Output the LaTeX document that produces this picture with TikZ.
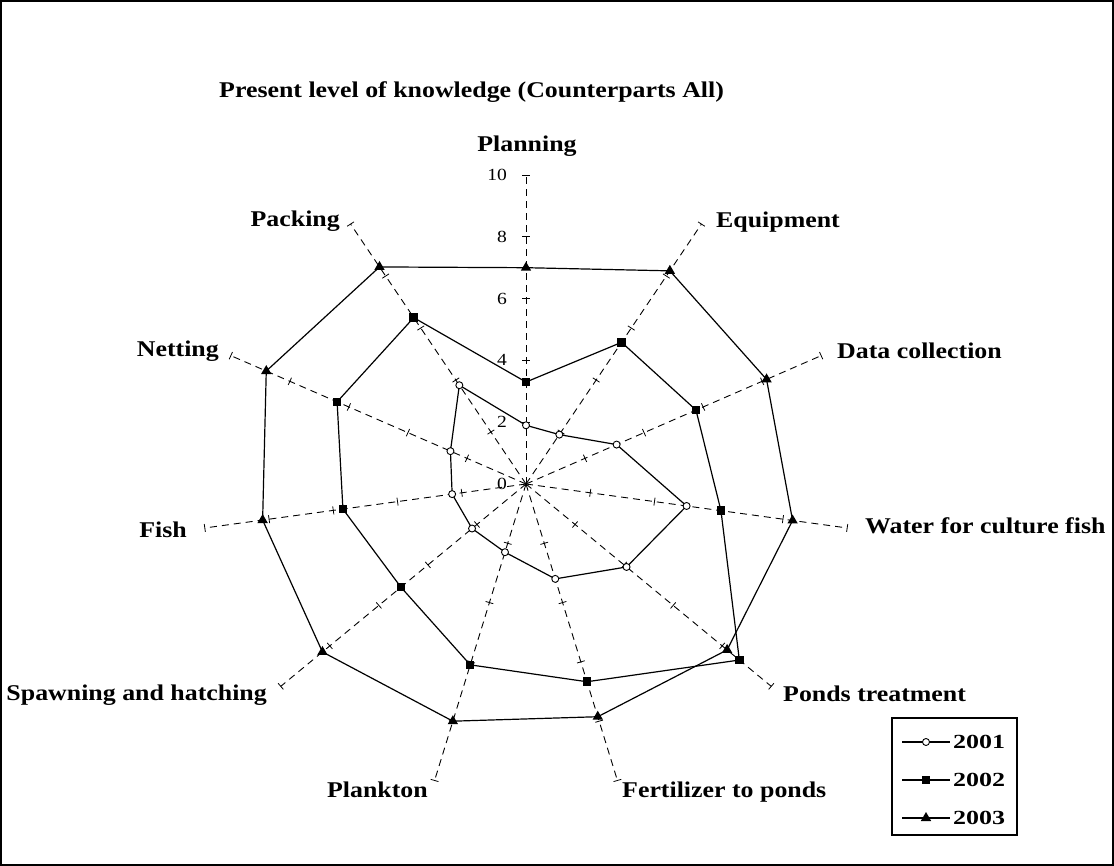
\documentclass[tikz,border=0pt]{standalone}
\usepackage{fontspec}
\setmainfont{Liberation Serif}
\newfontfamily\chartfont{Liberation Serif}[FakeStretch=1.15]
\newfontfamily\legfont{Liberation Serif}[FakeStretch=1.3]
\usetikzlibrary{shapes.geometric}

\begin{document}
\begin{tikzpicture}[x=1pt,y=-1pt,
  axisline/.style={line width=0.9pt, dash pattern=on 7pt off 5pt},
  tickmark/.style={line width=0.8pt},
  series/.style={line width=1.2pt, line join=round},
  mkA/.style={circle, draw, fill=white, line width=0.9pt, inner sep=0pt, minimum size=7pt},
  mkB/.style={rectangle, fill=black, inner sep=0pt, minimum size=8.5pt},
  mkC/.style={regular polygon, regular polygon sides=3, fill=black, inner sep=0pt, minimum size=12pt},
  lbl/.style={inner sep=0pt, font=\chartfont\bfseries\fontsize{22.5}{26}\selectfont},
  ttl/.style={inner sep=0pt, font=\chartfont\bfseries\fontsize{22.5}{26}\selectfont},
  ticklbl/.style={inner sep=0pt, anchor=east, font=\chartfont\fontsize{17}{20}\selectfont},
  leglbl/.style={inner sep=0pt, anchor=west, font=\legfont\bfseries\fontsize{20}{24}\selectfont},
]
\useasboundingbox (0,0) rectangle (1114,866);
% outer frame
\draw[line width=1.2pt] (1,1) rectangle (1113,865);

% title
\node[ttl, anchor=base west] (title) at (219,98) {Present level of knowledge (Counterparts All)};

% radar grid: 11 axes, value 10 at the rim
\begin{scope}[shift={(526,484)}, x=32.45pt, y=-30.9pt]
  \coordinate (O) at (0,0);
  \foreach \k in {0,...,10} {
    \pgfmathsetmacro\ang{\k*360/11-90}
    \pgfmathsetmacro\pa{90-\ang}
    \pgfmathsetmacro\pb{270-\ang}
    \coordinate (ax\k) at (\ang:10);
    \draw[axisline] (O) -- (ax\k);
    \foreach \v in {2,4,6,8,10} {
      \draw[tickmark] (\ang:\v) ++(\pa:4pt) -- ++(\pb:8pt);
    }
  }
  % value labels on the first axis
  \foreach \v in {0,2,...,10} {
    \node[ticklbl, xshift=-19pt] at (0,-\v) {\v};
  }

  % data series
  \def\dataA{1.9,1.9,3.07,5.0,4.1,3.2,2.3,2.2,2.3,2.56,3.8}
  \def\dataB{3.3,5.45,5.76,6.07,8.7,6.67,6.1,5.1,5.7,6.4,6.4}
  \def\dataC{7.0,8.2,8.15,8.3,8.2,7.85,8.0,8.3,8.2,8.8,8.35}
  \foreach \v [count=\i from 0] in \dataA { \coordinate (a\i) at (\i*360/11-90:\v); }
  \foreach \v [count=\i from 0] in \dataB { \coordinate (b\i) at (\i*360/11-90:\v); }
  \foreach \v [count=\i from 0] in \dataC { \coordinate (c\i) at (\i*360/11-90:\v); }

  \draw[series] (a0) \foreach \i in {1,...,10} { -- (a\i) } -- cycle;
  \foreach \i in {0,...,10} { \node[mkA] at (a\i) {}; }
  \draw[series] (b0) \foreach \i in {1,...,10} { -- (b\i) } -- cycle;
  \foreach \i in {0,...,10} { \node[mkB] at (b\i) {}; }
  \draw[series] (c0) \foreach \i in {1,...,10} { -- (c\i) } -- cycle;
  \foreach \i in {0,...,10} { \node[mkC] at (c\i) {}; }
\end{scope}

% category labels
\node[lbl, anchor=base] (lPlan) at (527,152) {Planning};
\node[lbl, anchor=base west] (lEquip) at (716,228) {Equipment};
\node[lbl, anchor=base west] (lData) at (837,359) {Data collection};
\node[lbl, anchor=base west] (lWater) at (865,533) {Water for culture fish};
\node[lbl, anchor=base west] (lPonds) at (783,701) {Ponds treatment};
\node[lbl, anchor=base west] (lFert) at (622,797) {Fertilizer to ponds};
\node[lbl, anchor=base east] (lPlank) at (428,797) {Plankton};
\node[lbl, anchor=base east] (lSpawn) at (267,700) {Spawning and hatching};
\node[lbl, anchor=base east] (lFish) at (187,537) {Fish};
\node[lbl, anchor=base east] (lNet) at (219,357) {Netting};
\node[lbl, anchor=base east] (lPack) at (340,227) {Packing};

% legend
\draw[line width=1.2pt] (892,718) rectangle (1017,835);
\draw[series] (902,742) -- (950,742);
\node[mkA] (kA) at (926,742) {};
\node[leglbl] (tA) at (953,742) {2001};
\draw[series] (902,780) -- (950,780);
\node[mkB] (kB) at (926,780) {};
\node[leglbl] (tB) at (953,780) {2002};
\draw[series] (902,818) -- (950,818);
\node[mkC] (kC) at (926,818) {};
\node[leglbl] (tC) at (953,818) {2003};
\end{tikzpicture}
\end{document}
